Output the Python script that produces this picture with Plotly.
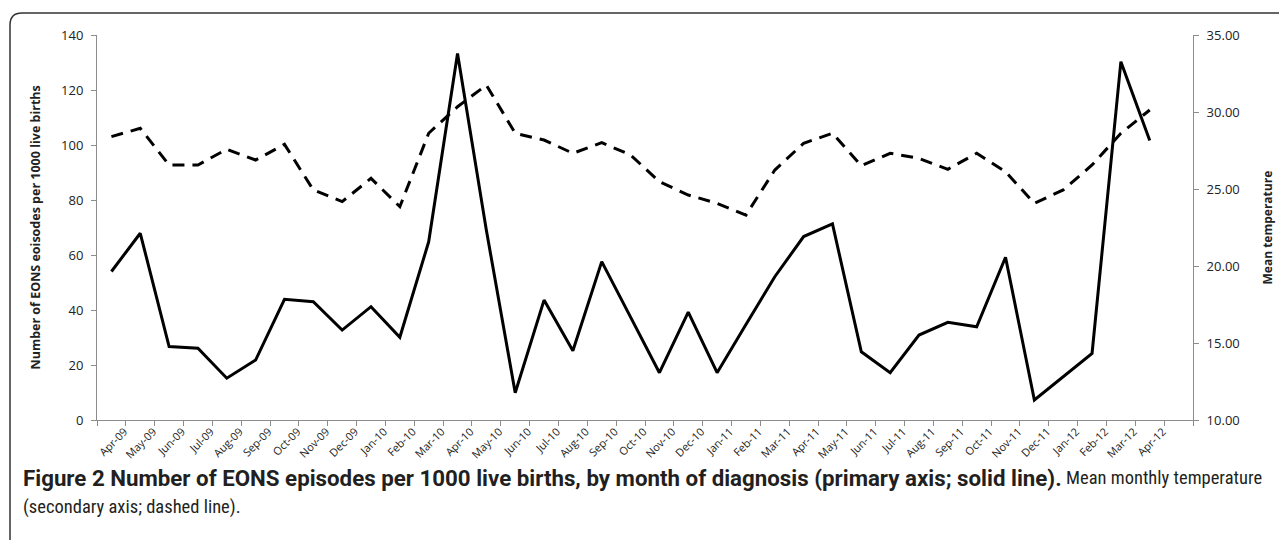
import plotly.graph_objects as go

months = ["Apr-09", "May-09", "Jun-09", "Jul-09", "Aug-09", "Sep-09", "Oct-09", "Nov-09", "Dec-09",
          "Jan-10", "Feb-10", "Mar-10", "Apr-10", "May-10", "Jun-10", "Jul-10", "Aug-10", "Sep-10",
          "Oct-10", "Nov-10", "Dec-10", "Jan-11", "Feb-11", "Mar-11", "Apr-11", "May-11", "Jun-11",
          "Jul-11", "Aug-11", "Sep-11", "Oct-11", "Nov-11", "Dec-11", "Jan-12", "Feb-12", "Mar-12",
          "Apr-12"]

eons_rate = [54.0, 67.9, 26.7, 26.1, 15.2, 21.8, 43.9, 43.0, 32.7,
             41.2, 30.1, 64.8, 133.3, 69.0, 9.9, 43.6, 25.2, 57.6,
             37.4, 17.2, 39.2, 17.2, 34.7, 52.1, 66.7, 71.3, 24.8,
             17.2, 30.9, 35.5, 33.9, 59.2, 7.3, 15.8, 24.2, 130.3,
             101.6]

mean_temp = [28.40, 28.94, 26.56, 26.56, 27.58, 26.88, 27.90, 24.94, 24.18,
             25.69, 23.85, 28.62, 30.34, 31.75, 28.62, 28.18, 27.32, 28.01,
             27.21, 25.47, 24.61, 24.07, 23.31, 26.23, 27.97, 28.62, 26.51,
             27.32, 26.99, 26.28, 27.32, 26.12, 24.07, 24.94, 26.56, 28.62,
             30.13]

left_ticks = [0, 20, 40, 60, 80, 100, 120, 140]
right_ticks = [10, 15, 20, 25, 30, 35]

FONT = "Open Sans, Lato, sans-serif"
BOLD_CAP_FONT = "Roboto, Open Sans, sans-serif"
REG_CAP_FONT = "Liberation Sans Narrow, Roboto Condensed, Open Sans, sans-serif"
AXIS_GREY = "#8c8c8c"
TXT = "#222222"

x_idx = list(range(len(months)))
label_pos = [i + 0.45 for i in x_idx]

fig = go.Figure()
fig.add_trace(go.Scatter(
    x=x_idx, y=eons_rate, mode="lines", name="EONS episodes",
    line=dict(color="black", width=3), yaxis="y",
))
fig.add_trace(go.Scatter(
    x=x_idx, y=mean_temp, mode="lines", name="Mean temperature",
    line=dict(color="black", width=3, dash="12px,8px"), yaxis="y2",
))

# plot area in pixels: x 97..1193, y 35..420
W, H = 1279, 540
L, R, T, B = 97, 1193, 35, 420
pw, ph = R - L, B - T


def px(xp):
    return (xp - L) / pw


def py(yp):
    return (B - yp) / ph


fig.update_layout(
    width=W, height=H,
    margin=dict(l=L, r=W - R, t=T, b=H - B, pad=0),
    paper_bgcolor="white", plot_bgcolor="white",
    showlegend=False,
    font=dict(family=FONT, color=TXT),
    xaxis=dict(
        range=[-0.5, len(months) + 0.5],
        tickmode="array", tickvals=label_pos, ticktext=months,
        tickangle=-45, tickfont=dict(size=11, color=TXT),
        ticks="", showgrid=False, zeroline=False,
        showline=True, linecolor=AXIS_GREY, linewidth=1,
        minor=dict(tickmode="linear", tick0=-0.5, dtick=1, ticks="outside",
                   ticklen=5, tickcolor=AXIS_GREY, tickwidth=1, showgrid=False),
        fixedrange=True,
    ),
    yaxis=dict(
        range=[0, 140], tickmode="array", tickvals=left_ticks,
        tickfont=dict(size=13, color=TXT),
        ticks="outside", ticklen=5, tickcolor=AXIS_GREY,
        ticklabelstandoff=5,
        showgrid=False, zeroline=False,
        showline=True, linecolor=AXIS_GREY, linewidth=1,
    ),
    yaxis2=dict(
        range=[10, 35], tickmode="array", tickvals=right_ticks,
        tickformat=".2f", overlaying="y", side="right",
        tickfont=dict(size=13, color=TXT),
        ticks="outside", ticklen=5, tickcolor=AXIS_GREY,
        ticklabelstandoff=5,
        showgrid=False, zeroline=False,
        showline=True, linecolor=AXIS_GREY, linewidth=1,
    ),
)

annotations = [
    dict(text="<b>Number of EONS eoisodes per 1000 live births</b>",
         xref="paper", yref="paper", x=px(35), y=0.5, textangle=-90,
         showarrow=False, font=dict(size=12.5, color=TXT, family=FONT),
         xanchor="center", yanchor="middle"),
    dict(text="<b>Mean temperature</b>",
         xref="paper", yref="paper", x=px(1267), y=0.5, textangle=-90,
         showarrow=False, font=dict(size=12, color=TXT, family=FONT),
         xanchor="center", yanchor="middle"),
    dict(text="<b>Figure 2 Number of EONS episodes per 1000 live births, by month of diagnosis "
              "(primary axis; solid line).</b>",
         xref="paper", yref="paper", x=px(21), y=py(478),
         showarrow=False, xanchor="left", yanchor="middle",
         font=dict(size=22.3, color="#231f20", family=BOLD_CAP_FONT)),
    dict(text="Mean monthly temperature",
         xref="paper", yref="paper", x=px(1264), y=py(478),
         showarrow=False, xanchor="right", yanchor="middle",
         font=dict(size=18.5, color="#231f20", family=REG_CAP_FONT)),
    dict(text="(secondary axis; dashed line).",
         xref="paper", yref="paper", x=px(21), y=py(507),
         showarrow=False, xanchor="left", yanchor="middle",
         font=dict(size=18.5, color="#231f20", family=REG_CAP_FONT)),
]
fig.update_layout(annotations=annotations)

# rounded frame around the figure (extends past right and bottom edges)
x0, y0 = px(10), py(13)
x1, y1 = px(1300), py(560)
rx, ry = 12 / pw, 12 / ph
path = (f"M {x0},{y1} L {x0},{y0 - ry} Q {x0},{y0} {x0 + rx},{y0} "
        f"L {x1},{y0}")
fig.add_shape(type="path", path=path, xref="paper", yref="paper",
              line=dict(color="#333333", width=1.5), layer="below")

fig.write_html("out.html", config={"displayModeBar": False},
               post_script="document.body.style.margin='0';document.body.style.overflow='hidden';")
